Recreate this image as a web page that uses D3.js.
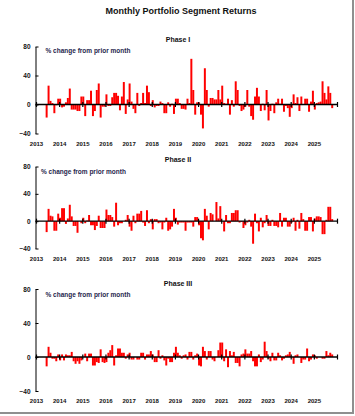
<!DOCTYPE html>
<html><head><meta charset="utf-8">
<script src="https://cdn.jsdelivr.net/npm/d3@7"></script>
<style>
html,body{margin:0;padding:0;background:#fff;}
svg{display:block;}
text{font-family:"Liberation Sans",Arial,sans-serif;font-weight:bold;}
</style></head>
<body>
<script>
// ---- data ----
const startYear = 2013;
const startMonth = 5; // June (0-based)
const yearTicks = [2013,2014,2015,2016,2017,2018,2019,2020,2021,2022,2023,2024,2025];
const yTicks = [-40, 0, 40, 80];
const panelTitles = ["Phase I", "Phase II", "Phase III"];
const mainTitle = "Monthly Portfolio Segment Returns";
const unitLabel = "% change from prior month";

const phase1 = [-18,26,5,2,-12,-1,8,8,-4,-3,3,9,22,-7,-7,-7,-9,-9,11,11,-16,6,6,19,-16,-9,20,29,-18,-3,-3,14,-2,-2,10,16,16,12,-8,11,31,-13,7,29,4,-6,-12,16,-2,2,16,2,26,17,-2,6,-4,-2,-2,4,2,-12,-12,3,-3,1,-13,8,8,2,-6,-6,-7,8,2,63,20,-14,3,3,-14,-33,50,20,-3,9,9,7,7,20,7,26,2,1,8,-14,6,-3,32,20,-2,-9,-7,-3,20,-3,-16,-21,11,23,11,-9,1,-8,20,-22,-9,1,-12,3,8,1,8,-10,-2,-5,-17,-5,14,2,10,-9,11,0,8,8,-10,4,19,-7,2,3,4,32,16,7,25,16,-5];

const phase2 = [-16,18,8,7,-14,-14,11,5,19,19,-4,4,24,7,-7,-7,-17,0,-3,5,-3,1,9,-6,-6,-13,-7,8,-10,-10,-10,17,9,9,6,-8,27,-6,-3,-3,0,2,9,-8,-14,8,-3,11,11,15,-2,-7,16,-3,3,-12,3,3,-3,-2,-12,-2,5,-14,-12,-8,18,5,-5,-2,-2,-2,-14,-2,-2,-2,-8,6,6,-6,-25,-28,18,8,-12,12,10,0,28,4,22,0,-15,9,-3,-3,12,12,16,16,-2,-1,-10,-6,-2,2,-8,-33,11,-3,-15,5,-9,-3,9,-7,-7,2,-7,-7,-9,12,-8,5,5,-8,-8,-2,5,-14,2,-11,12,3,-14,-14,6,6,-15,4,7,7,6,-19,-19,2,21,21,3];

const phase3 = [-11,12,5,-2,-2,-5,3,-4,3,-4,3,2,2,6,-5,-8,-5,-8,-4,0,4,-5,4,4,-10,-10,-6,-7,9,-6,-7,-6,5,8,14,-10,2,10,10,5,5,-2,3,5,-3,-3,0,-3,-3,5,5,-3,3,3,7,3,-6,-6,8,-2,2,-4,-10,-2,-6,-6,5,12,5,2,-2,2,3,-3,6,6,-3,2,4,-10,-11,12,7,-3,7,7,-3,-5,0,8,17,17,-5,9,-12,7,2,6,-7,-7,-11,3,4,9,4,4,7,-5,-11,-11,3,-6,-3,18,7,-2,-5,5,-4,-4,5,2,-4,-2,2,3,6,0,-8,2,3,0,-7,-3,-3,10,-5,-3,3,2,-2,0,0,-2,-2,7,2,5,3];

const seriesList = [phase1, phase2, phase3];

// ---- layout ----
const W = 355, H = 416;
const panels = [
  {top: 46.5, bottom: 133.5, titleY: 42, unitX: 45.5, unitY: 52.5, yearY: 146},
  {top: 166.5, bottom: 248.5, titleY: 162, unitX: 41, unitY: 174, yearY: 260.5},
  {top: 289, bottom: 391, titleY: 286, unitX: 45.5, unitY: 296.5, yearY: 403}
];

const svg = d3.select("body").append("svg").attr("width", W).attr("height", H);
svg.append("rect").attr("width", W).attr("height", H).attr("fill", "#fff");

// frame (right & bottom)
svg.append("line").attr("x1", 353).attr("x2", 353).attr("y1", 0).attr("y2", 414)
  .attr("stroke", "#8f8f8f").attr("stroke-width", 2);
svg.append("line").attr("x1", 0).attr("x2", 354).attr("y1", 413).attr("y2", 413)
  .attr("stroke", "#8f8f8f").attr("stroke-width", 2);

svg.append("text").attr("x", 181).attr("y", 14).attr("text-anchor", "middle")
  .attr("font-size", 9).attr("fill", "#111").text(mainTitle);

const x = d3.scaleLinear().domain([2013, 2026]).range([36, 337]);

panels.forEach((p, i) => {
  const vals = seriesList[i];
  const y = d3.scaleLinear().domain([-40, 80]).range([p.bottom, p.top]);
  const g = svg.append("g");

  g.append("text").attr("x", 178).attr("y", p.titleY).attr("text-anchor", "middle")
    .attr("font-size", 7).attr("fill", "#111").text(panelTitles[i]);
  g.append("text").attr("x", p.unitX).attr("y", p.unitY)
    .attr("font-size", 6.5).attr("fill", "#26264d").text(unitLabel);

  // bars
  g.selectAll("rect.bar").data(vals).join("rect").attr("class", "bar")
    .attr("x", (d, k) => x(startYear + (startMonth + k) / 12))
    .attr("width", (d, k) => x(startYear + (startMonth + k + 1) / 12) - x(startYear + (startMonth + k) / 12) + 0.05)
    .attr("y", d => y(Math.max(0, d)))
    .attr("height", d => Math.abs(y(d) - y(0)))
    .attr("fill", "#ff0000");

  // y axis
  const ya = g.append("g").attr("transform", `translate(35.5,0)`)
    .call(d3.axisLeft(y).tickValues(yTicks).tickSizeInner(-3).tickSizeOuter(0).tickPadding(5).tickFormat(d3.format("d")));
  ya.select(".domain").attr("stroke", "#000").attr("stroke-width", 1);
  ya.selectAll(".tick line").attr("stroke", "#000");
  ya.selectAll(".tick text").attr("font-size", 6.5).attr("fill", "#111")
    .style("font-family", '"Liberation Sans",Arial,sans-serif').style("font-weight", "bold");

  // zero axis with year ticks
  const za = g.append("g").attr("transform", `translate(0,${y(0)})`)
    .call(d3.axisBottom(x).tickValues(d3.range(2013, 2027)).tickSize(2.5).tickSizeOuter(0).tickFormat(""));
  za.select(".domain").attr("stroke", "#000").attr("stroke-width", 1.3).attr("d", `M35.5,0H${x(2026)}`);
  za.selectAll(".tick line").attr("y1", -2.5).attr("y2", 2.5).attr("stroke", "#000").attr("stroke-width", 1.2);

  // year labels
  const la = g.append("g").attr("transform", `translate(0,${p.yearY})`)
    .call(d3.axisBottom(x).tickValues(yearTicks).tickSize(0).tickPadding(0).tickFormat(d3.format("d")));
  la.select(".domain").remove();
  la.selectAll(".tick text").attr("font-size", 6).attr("fill", "#111").attr("dy", 0)
    .style("font-family", '"Liberation Sans",Arial,sans-serif').style("font-weight", "bold");
});
</script>
</body></html>
